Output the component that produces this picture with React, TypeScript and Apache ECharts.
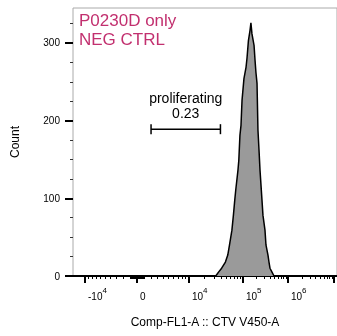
import React, { useEffect, useRef } from 'react';
import * as echarts from 'echarts';

// ---- data ----
// histogram outline: fluorescence value (Comp-FL1-A) and event count
const cellValues = [32000, 36000, 41000, 48000, 53000, 57000, 63000, 67000, 71000, 74000, 81000, 84000, 88000, 92000, 96000, 105000, 117000, 123000, 132000, 143000, 150000, 158000, 176000, 185000, 194000, 205000, 215000, 227000, 239000, 264000, 278000, 308000, 324000, 359000, 378000, 398000, 441000, 489000];
const counts = [0, 5, 10, 18, 27, 40, 59, 78, 98, 111, 136, 149, 181, 194, 226, 254, 269, 281, 303, 316, 326, 312, 297, 278, 262, 248, 188, 162, 136, 98, 78, 59, 40, 27, 18, 10, 5, 0];

// gate
const gateName = 'proliferating';
const gatePercent = '0.23';
const gateLow = 2000;
const gateHigh = 39000;
const gateLevel = 189;

// titles
const titleLines = ['P0230D only', 'NEG CTRL'];
const xAxisName = 'Comp-FL1-A :: CTV V450-A';
const yAxisName = 'Count';

// y ticks
const yMajorTicks = [0, 100, 200, 300];
const yMinorTicks = [25, 50, 75, 125, 150, 175, 225, 250, 275, 325];
const yMax = 345;

// x ticks (biexponential display)
const xMajorTicks = [-1e4, 0, 1e4, 1e5, 1e6, 1e7];
const xTickBases = ['-10', '0', '10', '10', '10', '10'];
const xTickExps = ['4', ' ', '4', '5', '6', '7'];

// biexponential scale definition
const BIEX_W = 5000;
const scaleBreaks = [-1e4, 0, 1e4, 1e5, 1e6, 1e7];
const scaleBreakPos = [12, 64, 116, 170, 215, 261];
const X_MIN = 0;
const X_MAX = 264;

const breakU = scaleBreaks.map((b) => Math.asinh(b / BIEX_W));
function biex(v: number): number {
  const u = Math.asinh(v / BIEX_W);
  let i = 0;
  if (u > breakU[0]) {
    while (i < breakU.length - 2 && u > breakU[i + 1]) i++;
  }
  const t = (u - breakU[i]) / (breakU[i + 1] - breakU[i]);
  return scaleBreakPos[i] + t * (scaleBreakPos[i + 1] - scaleBreakPos[i]);
}

const xMinorTicks: number[] = [];
for (const m of [100, 1000]) for (let k = 1; k <= 9; k++) xMinorTicks.push(-k * m);
for (const m of [100, 1000, 1e4, 1e5, 1e6]) {
  for (let k = 1; k <= 9; k++) {
    if (k === 1 && m >= 1e4) continue;
    xMinorTicks.push(k * m);
  }
}

const FONT = '"Liberation Sans", Arial, Helvetica, sans-serif';

export default function App() {
  const ref = useRef<HTMLDivElement>(null);
  useEffect(() => {
    if (!ref.current) return;
    const chart = echarts.init(ref.current, undefined, { renderer: 'svg' });
    const majorPos = xMajorTicks.map(biex);
    const minorPos = xMinorTicks.map(biex);
    const labelFor = (val: number) => {
      let best = 0;
      for (let i = 1; i < majorPos.length; i++) {
        if (Math.abs(majorPos[i] - val) < Math.abs(majorPos[best] - val)) best = i;
      }
      return `{b|${xTickBases[best]}}{s|${xTickExps[best]}}`;
    };
    chart.setOption({
      animation: false,
      grid: {
        left: 73,
        top: 8,
        right: 0,
        bottom: 60,
        outerBoundsMode: 'none',
        containLabel: false,
        show: true,
        borderColor: '#aaaaaa',
        borderWidth: 1,
        backgroundColor: 'transparent',
      },
      graphic: titleLines.map((t, i) => ({
        type: 'text',
        left: 79,
        top: 12 + i * 19,
        style: { text: t, fontSize: 17, fill: '#c2306f', fontFamily: FONT },
      })),
      xAxis: [
        {
          type: 'value',
          min: X_MIN,
          max: X_MAX,
          position: 'bottom',
          name: xAxisName,
          nameLocation: 'middle',
          nameGap: 40,
          nameTextStyle: { fontSize: 12, color: '#000', fontFamily: FONT },
          axisLine: { show: true, onZero: false, lineStyle: { color: '#000', width: 2 } },
          axisTick: { show: true, customValues: majorPos, length: 7, lineStyle: { color: '#000', width: 2 } },
          axisLabel: {
            show: true,
            customValues: majorPos,
            formatter: labelFor,
            align: 'left',
            margin: 10,
            padding: [0, 0, 0, 3],
            hideOverlap: false,
            rich: {
              b: { fontSize: 10, color: '#000', fontFamily: FONT },
              s: { fontSize: 8, color: '#000', fontFamily: FONT, padding: [0, 0, 13, 0] },
            },
          },
          splitLine: { show: false },
        },
        {
          type: 'value',
          min: X_MIN,
          max: X_MAX,
          position: 'bottom',
          offset: 0,
          axisLine: { show: false, onZero: false },
          axisTick: { show: true, customValues: minorPos, length: 3, lineStyle: { color: '#000', width: 1 } },
          axisLabel: { show: false },
          splitLine: { show: false },
        },
      ],
      yAxis: [
        {
          type: 'value',
          min: 0,
          max: yMax,
          position: 'left',
          name: yAxisName,
          nameLocation: 'middle',
          nameGap: 52,
          nameRotate: 90,
          nameTextStyle: { fontSize: 12, color: '#000', fontFamily: FONT },
          axisLine: { show: false },
          axisTick: { show: true, customValues: yMajorTicks, length: 8, lineStyle: { color: '#000', width: 2 } },
          axisLabel: { show: true, customValues: yMajorTicks, margin: 13, fontSize: 10, color: '#000', fontFamily: FONT },
          splitLine: { show: false },
        },
        {
          type: 'value',
          min: 0,
          max: yMax,
          position: 'left',
          offset: 0,
          axisLine: { show: false },
          axisTick: { show: true, customValues: yMinorTicks, length: 3, lineStyle: { color: '#333', width: 1 } },
          axisLabel: { show: false },
          splitLine: { show: false },
        },
      ],
      series: [
        {
          type: 'line',
          xAxisIndex: 0,
          yAxisIndex: 0,
          data: cellValues.map((v, i) => [biex(v), counts[i]]),
          symbol: 'none',
          showSymbol: false,
          lineStyle: { color: '#000', width: 1.5 },
          areaStyle: { color: '#9a9a9a', opacity: 1 },
          z: 3,
        },
        {
          type: 'custom',
          xAxisIndex: 0,
          yAxisIndex: 0,
          encode: { x: [0, 1], y: 2 },
          data: [[biex(gateLow), biex(gateHigh), gateLevel]],
          renderItem: (params: any, api: any) => {
            const p1 = api.coord([api.value(0), api.value(2)]);
            const p2 = api.coord([api.value(1), api.value(2)]);
            const cx = (p1[0] + p2[0]) / 2;
            const st = { stroke: '#000', lineWidth: 1.5 };
            return {
              type: 'group',
              children: [
                { type: 'line', shape: { x1: p1[0], y1: p1[1], x2: p2[0], y2: p2[1] }, style: st },
                { type: 'line', shape: { x1: p1[0], y1: p1[1] - 5, x2: p1[0], y2: p1[1] + 5 }, style: st },
                { type: 'line', shape: { x1: p2[0], y1: p2[1] - 5, x2: p2[0], y2: p2[1] + 5 }, style: st },
                {
                  type: 'text',
                  x: cx,
                  y: p1[1] - 9,
                  style: { text: gatePercent, fontSize: 14, fill: '#000', fontFamily: FONT, textAlign: 'center', textVerticalAlign: 'bottom' },
                },
                {
                  type: 'text',
                  x: cx,
                  y: p1[1] - 24,
                  style: { text: gateName, fontSize: 14, fill: '#000', fontFamily: FONT, textAlign: 'center', textVerticalAlign: 'bottom' },
                },
              ],
            };
          },
          z: 4,
        },
      ],
    });
    return () => chart.dispose();
  }, []);
  return <div ref={ref} style={{ position: 'fixed', left: 0, top: 0, width: 337, height: 336 }} />;
}
